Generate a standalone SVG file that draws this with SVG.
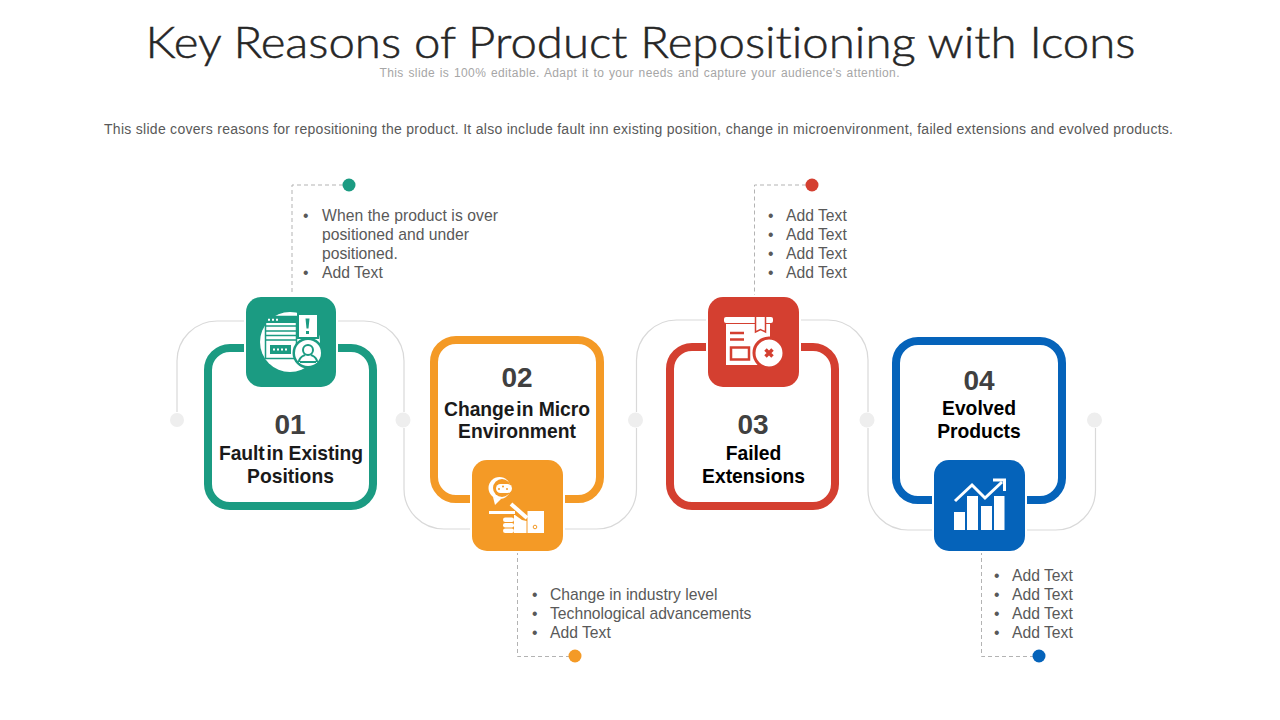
<svg xmlns="http://www.w3.org/2000/svg" width="1280" height="720" viewBox="0 0 1280 720">
<style>
.sans{font-family:"Liberation Sans",Arial,sans-serif}
.title{font-family:"Lato","Liberation Sans",sans-serif;font-weight:300;font-size:44px;fill:#262626;stroke:#262626;stroke-width:.5px;text-anchor:middle;font-variant-ligatures:none}
.sub{font-size:12px;fill:#a6a6a6;text-anchor:middle;word-spacing:1px}
.desc{font-size:14px;fill:#595959;text-anchor:middle}
.num{font-size:28px;font-weight:700;fill:#404040;text-anchor:middle}
.lab{font-size:19.300px;font-weight:700;fill:#1a1a1a;text-anchor:middle}
.tight{word-spacing:-3.500px}
.body{font-size:15.700px;fill:#595959}
.card{fill:#fff;stroke-width:8}
.dash{fill:none;stroke:#b3b3b3;stroke-width:1;stroke-dasharray:4 3}
.curve{fill:none;stroke:#d9d9d9;stroke-width:1.2}
.gdot{fill:#eeeeee}
.halo{stroke:#fff;stroke-width:4;paint-order:stroke}
.w{fill:#fff}
.teal{fill:#1b9b82}.orange{fill:#f49a26}.red{fill:#d43f30}.blue{fill:#0563ba}
</style>
<rect width="1280" height="720" fill="#fff"/>
<text class="title" x="640.5" y="57.500" textLength="990" lengthAdjust="spacingAndGlyphs">Key Reasons of Product Repositioning with Icons</text>
<text class="sans sub" x="639.5" y="77" textLength="520">This slide is 100% editable. Adapt it to your needs and capture your audience's attention.</text>
<text class="sans desc" x="638.5" y="134" textLength="1069">This slide covers reasons for repositioning the product. It also include fault inn existing position, change in microenvironment, failed extensions and evolved products.</text>

<g id="connectors">
<path class="curve" d="M177 412V361A40 40 0 0 1 217 321H246M336 321H364A40 40 0 0 1 404 361V412M404 428V489A40 40 0 0 0 444 529H472M563 529H596A40 40 0 0 0 636.500 489V428M636.500 412V360A40 40 0 0 1 676.500 320H708M799 320H828A40 40 0 0 1 868 360V412M868 428V490A40 40 0 0 0 908 530H934M1025 530H1055A40 40 0 0 0 1095.500 490V428"/>
<circle class="gdot" cx="177" cy="420" r="7"/><circle class="gdot" cx="403" cy="420" r="7.500"/><circle class="gdot" cx="635.500" cy="420" r="7.500"/><circle class="gdot" cx="867" cy="420" r="7.500"/><circle class="gdot" cx="1094.500" cy="420" r="7.500"/>
<path class="dash" d="M343 185H292V297"/>
<path class="dash" d="M517.500 551V656.500H569"/>
<path class="dash" d="M806 185H754.500V297"/>
<path class="dash" d="M981.500 551V656.500H1033"/>
<circle class="teal" cx="349" cy="185" r="6.500"/><circle class="orange" cx="575" cy="656" r="6.500"/><circle class="red" cx="812" cy="185" r="6.500"/><circle class="blue" cx="1039" cy="656" r="6.500"/>
</g>

<g id="node-01">
<rect class="card" x="208" y="348" width="165" height="158" rx="22" stroke="#1b9b82"/>
<rect class="teal halo" x="246" y="297" width="90" height="90" rx="15"/>
<circle class="w" cx="290" cy="342" r="30"/>
<rect x="265.500" y="316.500" width="31" height="42" fill="#fff" stroke="#1b9b82" stroke-width="1.500"/>
<rect x="265.500" y="316.500" width="31" height="6.500" class="teal"/>
<path d="M268 319.700h2M272 319.700h2M276 319.700h2M268 327.500h2" stroke="#fff" stroke-width="2"/>
<path d="M265.500 326h31M265.500 331h31M265.500 335.500h31M265.500 340h31" stroke="#1b9b82" stroke-width="1.500"/>
<rect x="270" y="345" width="21" height="9" class="teal"/>
<path d="M273 349.500h15" stroke="#fff" stroke-width="2" stroke-dasharray="2 2"/>
<rect x="298" y="314" width="20" height="24" fill="#fff" stroke="#1b9b82" stroke-width="2"/>
<path d="M305.500 318.500h4l-1 10h-2zM306 331h3v3h-3z" class="teal"/>
<circle cx="308" cy="353" r="15.500" class="teal"/><circle cx="308" cy="353" r="13" class="w"/>
<circle cx="308" cy="350" r="5" fill="none" stroke="#1b9b82" stroke-width="2"/>
<path d="M299 362c0-5 4-6 6-7M317 362c0-5-4-6-6-7M300 362h16" fill="none" stroke="#1b9b82" stroke-width="2"/>
<text class="sans num" x="290" y="434">01</text>
<text class="sans lab" x="291" y="460" textLength="144"><tspan class="tight">Fault </tspan>in Existing</text>
<text class="sans lab" x="290.500" y="483">Positions</text>
<text class="sans body" x="303" y="221">•</text><text class="sans body" x="322" y="221" textLength="176">When the product is over</text>
<text class="sans body" x="322" y="240" textLength="147">positioned and under</text>
<text class="sans body" x="322" y="259">positioned.</text>
<text class="sans body" x="303" y="278">•</text><text class="sans body" x="322" y="278">Add Text</text>
</g>

<g id="node-02">
<rect class="card" x="434" y="340" width="166" height="159" rx="22" stroke="#f49a26"/>
<rect class="orange halo" x="472" y="460" width="91" height="91" rx="15"/>
<circle cx="499.500" cy="488" r="11" class="w"/><path d="M493 497l2 8 6-6z" class="w"/>
<circle cx="502" cy="488" r="9" class="orange"/>
<rect x="496" y="484" width="16" height="9" rx="4.500" class="w"/>
<circle cx="499" cy="489" r="1" class="orange"/><circle cx="503" cy="486.500" r="1" class="orange"/><circle cx="507" cy="489" r="1" class="orange"/>
<path d="M489 511H515V514H489Z" class="w"/>
<path d="M511 504L527 518" stroke="#fff" stroke-width="4"/>
<path d="M515 515L522 520L526.500 521V533H514V515Z" class="w"/>
<rect x="527.500" y="511" width="16.500" height="22" class="w"/>
<rect x="503" y="517.500" width="11" height="4.500" rx="2.200" class="w"/><rect x="503" y="523" width="11" height="4.500" rx="2.200" class="w"/><rect x="503" y="528.500" width="11" height="4.500" rx="2.200" class="w"/>
<circle cx="535" cy="527" r="1.800" fill="none" stroke="#f49a26"/>
<text class="sans num" x="517" y="387">02</text>
<text class="sans lab" x="517" y="416" textLength="146"><tspan class="tight">Change </tspan>in Micro</text>
<text class="sans lab" x="517" y="438">Environment</text>
<text class="sans body" x="532" y="600">•</text><text class="sans body" x="550" y="600">Change in industry level</text>
<text class="sans body" x="532" y="619">•</text><text class="sans body" x="550" y="619">Technological advancements</text>
<text class="sans body" x="532" y="638">•</text><text class="sans body" x="550" y="638">Add Text</text>
</g>

<g id="node-03">
<rect class="card" x="670" y="347" width="165" height="159" rx="22" stroke="#d43f30"/>
<rect class="red halo" x="708" y="297" width="91" height="90" rx="15"/>
<rect x="724" y="317" width="49" height="6" rx="2" class="w"/>
<path d="M726 324H770V365H726Z" class="w"/>
<path d="M755.500 317V332L760.500 329.500L765.500 332V317" class="w" stroke="#d43f30" stroke-width="1.500"/>
<path d="M730 333h14M730 339.500h14" stroke="#d43f30" stroke-width="2.500"/>
<rect x="731" y="347.500" width="18" height="12" fill="none" stroke="#d43f30" stroke-width="2.500"/>
<circle cx="769" cy="353" r="15" class="w" stroke="#d43f30" stroke-width="3"/>
<path d="M765.500 349.500l7 7M772.500 349.500l-7 7" stroke="#d43f30" stroke-width="3.500"/>
<text class="sans num" x="753" y="434">03</text>
<text class="sans lab" x="753.500" y="460" style="fill:#000">Failed</text>
<text class="sans lab" x="753.500" y="483" style="fill:#000">Extensions</text>
<text class="sans body" x="768" y="221">•</text><text class="sans body" x="786" y="221">Add Text</text>
<text class="sans body" x="768" y="240">•</text><text class="sans body" x="786" y="240">Add Text</text>
<text class="sans body" x="768" y="259">•</text><text class="sans body" x="786" y="259">Add Text</text>
<text class="sans body" x="768" y="278">•</text><text class="sans body" x="786" y="278">Add Text</text>
</g>

<g id="node-04">
<rect class="card" x="896" y="341" width="166" height="159" rx="22" stroke="#0563ba"/>
<rect class="blue halo" x="934" y="460" width="91" height="91" rx="15"/>
<path d="M954 512h11v18h-11zM967 496h11v34h-11zM981 506h11v24h-11zM994 496h10.500v34h-10.500z" class="w"/>
<path d="M955 501L972 485L985 498L1002 482" fill="none" stroke="#fff" stroke-width="3"/>
<path d="M993 480H1004.500V491" fill="none" stroke="#fff" stroke-width="3"/>
<text class="sans num" x="979" y="390">04</text>
<text class="sans lab" x="979" y="415" style="fill:#000">Evolved</text>
<text class="sans lab" x="979" y="438" style="fill:#000">Products</text>
<text class="sans body" x="994" y="581">•</text><text class="sans body" x="1012" y="581">Add Text</text>
<text class="sans body" x="994" y="600">•</text><text class="sans body" x="1012" y="600">Add Text</text>
<text class="sans body" x="994" y="619">•</text><text class="sans body" x="1012" y="619">Add Text</text>
<text class="sans body" x="994" y="638">•</text><text class="sans body" x="1012" y="638">Add Text</text>
</g>
</svg>
